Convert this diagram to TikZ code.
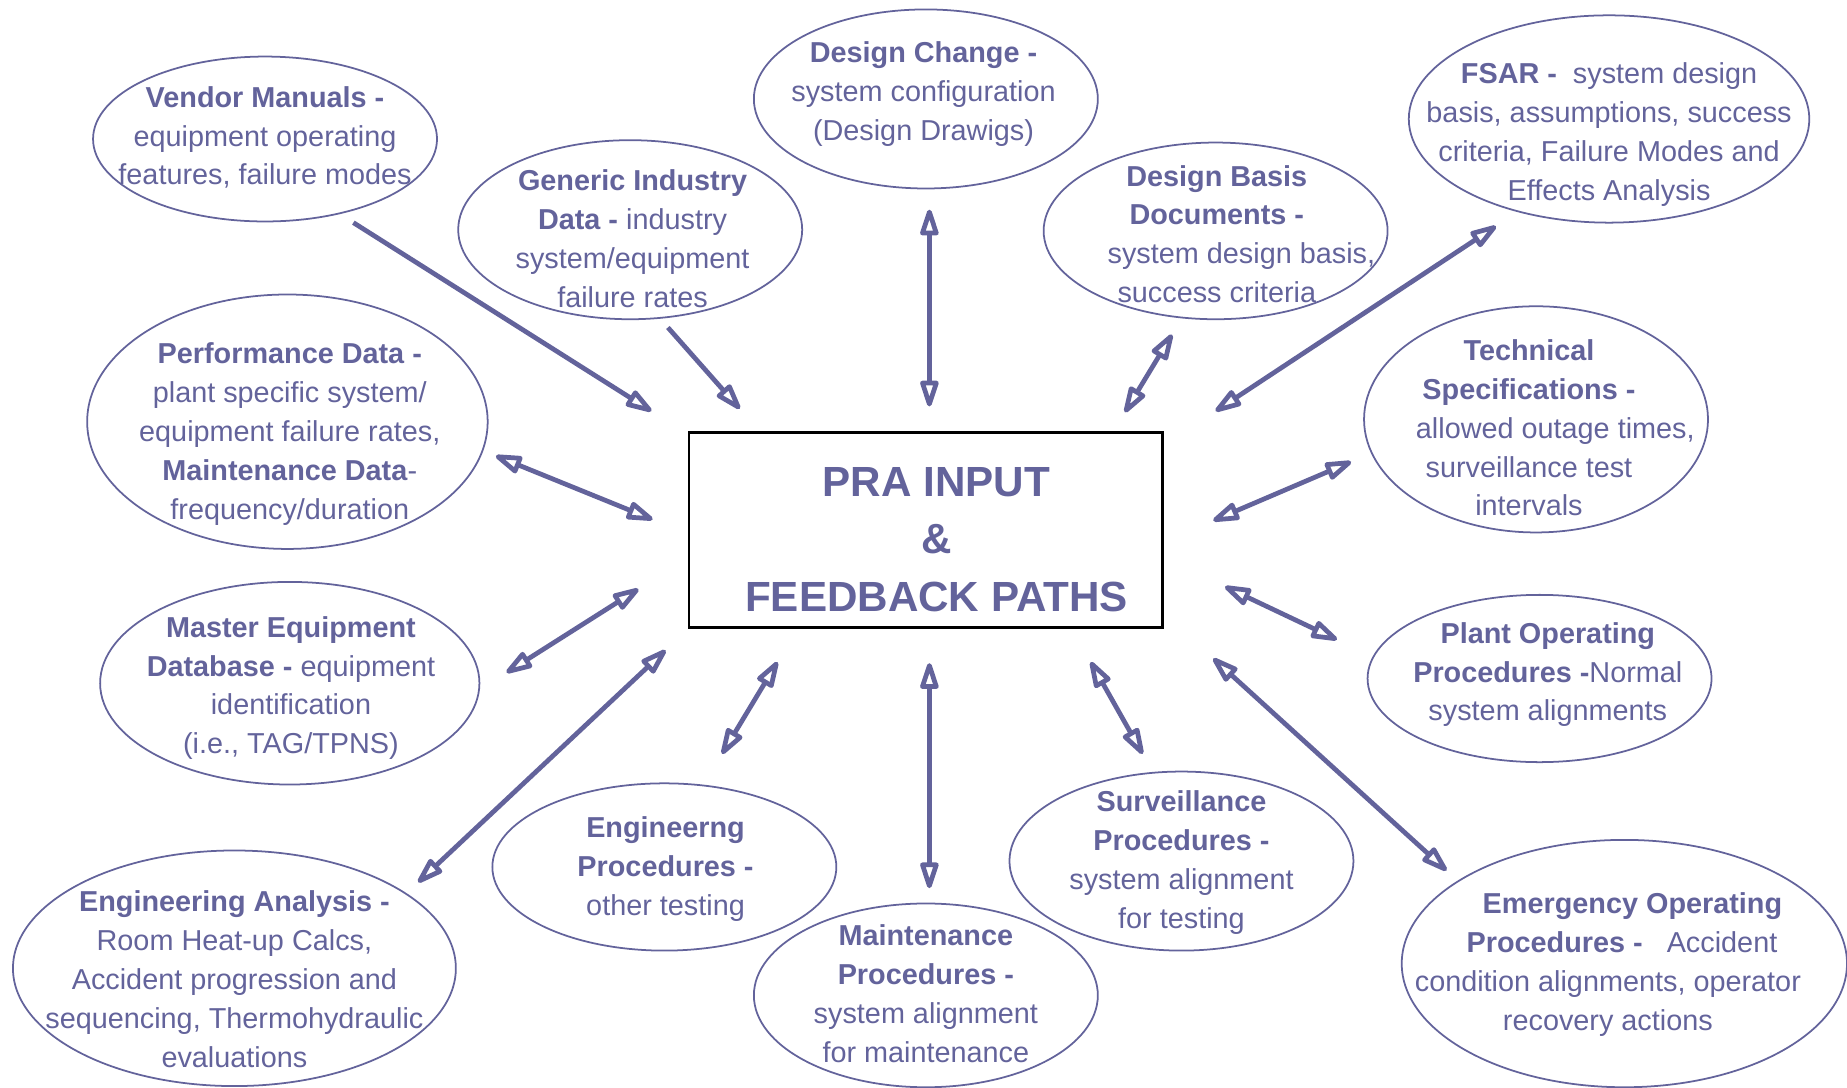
\documentclass[tikz,border=0pt]{standalone}
\usepackage{fontspec}
\setmainfont{Liberation Sans}
\usetikzlibrary{shapes.geometric,arrows.meta}
\definecolor{pra}{RGB}{99,99,155}
\tikzset{
  bubble/.style={ellipse, draw=pra, line width=0.5pt, inner sep=0pt},
  % multi-line texts are placed by the baseline of their last line
  btext/.style={text=pra, align=center, anchor=base, inner sep=0pt,
    font=\fontsize{8.2}{11.07}\selectfont},
  tip/.tip={Triangle[open, round, length=9pt, width=5.4pt]},
  oneway/.style={draw=pra, line width=1.35pt, -tip},
  twoway/.style={draw=pra, line width=1.35pt, tip-tip},
}
% ellipse: name, x, y, x radius, y radius (in picture units)
\newcommand\bub[5]{\node[bubble, minimum width={#4*0.02356cm},
  minimum height={#5*0.02356cm}] (#1) at (#2,#3) {};}
\begin{document}
\begin{tikzpicture}[x=0.01178cm, y=-0.01178cm]
\useasboundingbox (0,0) rectangle (1568,923);

% central box
\node[draw=black, line width=0.8pt, minimum width=4.736cm, minimum height=1.956cm,
  inner sep=0pt] (pra) at (786,450) {};
\node[text=pra, align=center, anchor=base, inner sep=0pt,
  font=\fontsize{12}{16.4}\selectfont\bfseries] (pratitle) at (795,519)
  {PRA INPUT\\\&\\FEEDBACK PATHS};

% source ellipses
\bub{vendor}{225}{118}{146}{70}
\bub{generic}{535}{195}{146}{76}
\bub{dchange}{786}{84}{146}{76}
\bub{dbasis}{1032}{196}{146}{75}
\bub{fsar}{1366}{101}{170}{88}
\bub{perf}{244}{358}{170}{108}
\bub{techspec}{1304}{356}{146}{96}
\bub{master}{246}{580}{161}{86}
\bub{plantop}{1307}{576}{146}{71}
\bub{enganal}{199}{822}{188}{100}
\bub{engproc}{564}{736}{146}{71}
\bub{maint}{786}{845}{146}{78}
\bub{surv}{1003}{731}{146}{76}
\bub{eop}{1379}{818}{189}{105}

% ellipse texts
\node[btext] (vendor-t) at (225,157)
  {\textbf{Vendor Manuals -}\\equipment operating\\features, failure modes};
\node[btext] (generic-t) at (537,261)
  {\textbf{Generic Industry}\\\textbf{Data -} industry\\system/equipment\\failure rates};
\node[btext] (dchange-t) at (784,119)
  {\textbf{Design Change -}\\system configuration\\(Design Drawigs)};
\node[btext] (dbasis-t) at (1033,257)
  {\textbf{Design Basis}\\\textbf{Documents -}\\\hspace*{14pt}system design basis,\\success criteria};
\node[btext] (fsar-t) at (1366,170)
  {\textbf{FSAR -}\ \ system design\\basis, assumptions, success\\criteria, Failure Modes and\\Effects Analysis};
\node[btext] (perf-t) at (246,441)
  {\textbf{Performance Data -}\\plant specific system/\\equipment failure rates,\\\textbf{Maintenance Data}-\\frequency/duration};
\node[btext] (techspec-t) at (1298,438)
  {\textbf{Technical}\\\textbf{Specifications -}\\\hspace*{15pt}allowed outage times,\\surveillance test\\intervals};
\node[btext] (master-t) at (247,640)
  {\textbf{Master Equipment}\\\textbf{Database -} equipment\\identification\\(i.e., TAG/TPNS)};
\node[btext] (plantop-t) at (1314,612)
  {\textbf{Plant Operating}\\\textbf{Procedures -}Normal\\system alignments};
\node[btext] (enganal-t) at (199,906)
  {\textbf{Engineering Analysis -}\\Room Heat-up Calcs,\\Accident progression and\\sequencing, Thermohydraulic\\evaluations};
\node[btext] (engproc-t) at (565,777)
  {\textbf{Engineerng}\\\textbf{Procedures -}\\other testing};
\node[btext] (maint-t) at (786,902)
  {\textbf{Maintenance}\\\textbf{Procedures -}\\system alignment\\for maintenance};
\node[btext] (surv-t) at (1003,788)
  {\textbf{Surveillance}\\\textbf{Procedures -}\\system alignment\\for testing};
\node[btext] (eop-t) at (1365,875)
  {\hspace*{14pt}\textbf{Emergency Operating}\\\hspace*{8pt}\textbf{Procedures -}\ \ \ Accident\\condition alignments, operator\\recovery actions};

% connector ends
\coordinate (va) at (300,189);  \coordinate (vb) at (553,349);
\coordinate (ga) at (567,278);  \coordinate (gb) at (628,347);
\coordinate (ca) at (789,178);  \coordinate (cb) at (789,345);
\coordinate (da) at (995,284);  \coordinate (db) at (955,350);
\coordinate (fa) at (1270,192); \coordinate (fb) at (1032,349);
\coordinate (pa) at (421,387);  \coordinate (pb) at (554,441);
\coordinate (ta) at (1147,392); \coordinate (tb) at (1030,442);
\coordinate (ma) at (430,571);  \coordinate (mb) at (542,500);
\coordinate (oa) at (1135,543); \coordinate (ob) at (1040,498);
\coordinate (ea) at (355,749);  \coordinate (eb) at (565,552);
\coordinate (ka) at (613,640);  \coordinate (kb) at (660,562);
\coordinate (na) at (789,754);  \coordinate (nb) at (789,563);
\coordinate (sa) at (970,640);  \coordinate (sb) at (926,562);
\coordinate (ya) at (1228,739); \coordinate (yb) at (1030,559);

% connectors
\draw[oneway] (va) -- (vb);
\draw[oneway] (ga) -- (gb);
\draw[twoway] (ca) -- (cb);
\draw[twoway] (da) -- (db);
\draw[twoway] (fa) -- (fb);
\draw[twoway] (pa) -- (pb);
\draw[twoway] (ta) -- (tb);
\draw[twoway] (ma) -- (mb);
\draw[twoway] (oa) -- (ob);
\draw[twoway] (ea) -- (eb);
\draw[twoway] (ka) -- (kb);
\draw[twoway] (na) -- (nb);
\draw[twoway] (sa) -- (sb);
\draw[twoway] (ya) -- (yb);
\end{tikzpicture}
\end{document}
